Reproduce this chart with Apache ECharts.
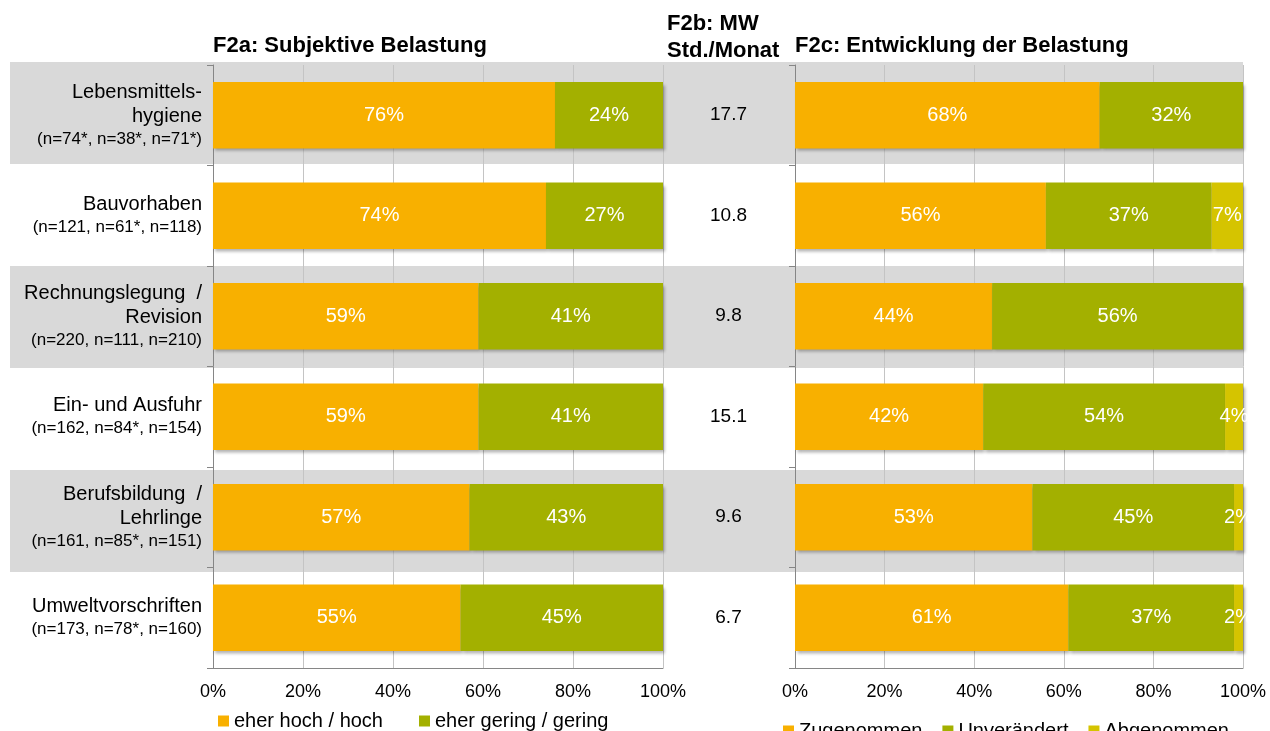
<!DOCTYPE html>
<html>
<head>
<meta charset="utf-8">
<script src="https://cdn.jsdelivr.net/npm/echarts@6/dist/echarts.min.js"></script>
<style>
  html, body { margin: 0; padding: 0; background: #fff; }
  #chart { width: 1270px; height: 731px; }
</style>
</head>
<body>
<div id="chart"></div>
<script>
  // Themen und Stichproben
  const categories = ['Lebensmittels-\nhygiene', 'Bauvorhaben', 'Rechnungslegung  /\nRevision',
    'Ein- und Ausfuhr', 'Berufsbildung  /\nLehrlinge', 'Umweltvorschriften'];
  const sampleSizes = ['(n=74*, n=38*, n=71*)', '(n=121, n=61*, n=118)', '(n=220, n=111, n=210)',
    '(n=162, n=84*, n=154)', '(n=161, n=85*, n=151)', '(n=173, n=78*, n=160)'];

  // F2a: subjektive Belastung (%)
  const highLoad = [76, 74, 59, 59, 57, 55];
  const lowLoad = [24, 27, 41, 41, 43, 45];

  // F2b: Mittelwert Std./Monat
  const hoursPerMonth = [17.7, 10.8, 9.8, 15.1, 9.6, 6.7];

  // F2c: Entwicklung der Belastung (%)
  const increased = [68, 56, 44, 42, 53, 61];
  const unchanged = [32, 37, 56, 54, 45, 37];
  const decreased = [0, 7, 0, 4, 2, 2];

  const percentTicks = [0, 20, 40, 60, 80, 100];

  const font = "'Liberation Sans', Arial, sans-serif";
  const orange = '#F8B000';
  const green = '#A3B000';
  const yellow = '#D5C400';
  const axisGray = '#868686';
  const textColor = '#000';

  const myChart = echarts.init(document.getElementById('chart'));

  let barLabel = {
    show: true,
    position: 'inside',
    color: '#fff',
    fontSize: 20,
    fontFamily: font,
    formatter: p => (p.value > 0 ? p.value + '%' : '')
  };
  let barShadow = {
    shadowColor: 'rgba(0,0,0,0.3)',
    shadowBlur: 3,
    shadowOffsetX: 2,
    shadowOffsetY: 3
  };

  function valueAxis(gridIndex) {
    return {
      type: 'value',
      gridIndex: gridIndex,
      min: percentTicks[0],
      max: percentTicks[percentTicks.length - 1],
      interval: 20,
      axisLine: { show: true, lineStyle: { color: axisGray } },
      axisTick: { show: false },
      axisLabel: { formatter: '{value}%', fontSize: 18, color: textColor, fontFamily: font, margin: 15 },
      splitLine: { show: true, lineStyle: { color: '#C4C4C4' } }
    };
  }

  function categoryAxis(gridIndex, withLabels) {
    return {
      type: 'category',
      gridIndex: gridIndex,
      inverse: true,
      data: categories,
      axisLine: { show: true, lineStyle: { color: axisGray } },
      axisTick: { show: true, length: 6, lineStyle: { color: axisGray } },
      axisLabel: withLabels ? {
        margin: 11,
        align: 'right',
        fontFamily: font,
        formatter: (v, i) => v.split('\n').map(s => '{a|' + s + '}').join('\n') + '\n{b|' + sampleSizes[i] + '}',
        rich: {
          a: { fontSize: 20, lineHeight: 24, color: textColor, fontFamily: font, align: 'right' },
          b: { fontSize: 17, lineHeight: 22, color: textColor, fontFamily: font, align: 'right' }
        }
      } : { show: false }
    };
  }

  let titleStyle = { fontSize: 22, fontWeight: 'bold', color: textColor, fontFamily: font, lineHeight: 27 };

  let option = {
    animation: false,
    title: [
      { text: 'F2a: Subjektive Belastung', left: 208, top: 27, textStyle: titleStyle },
      { text: 'F2b: MW\nStd./Monat', left: 662, top: 5, textStyle: titleStyle },
      { text: 'F2c: Entwicklung der Belastung', left: 790, top: 27, textStyle: titleStyle }
    ],
    legend: [
      { data: ['eher hoch / hoch', 'eher gering / gering'], left: 213, top: 706,
        itemWidth: 11, itemHeight: 11, itemGap: 36, icon: 'rect',
        textStyle: { fontSize: 20, color: textColor, fontFamily: font } },
      { data: ['Zugenommen', 'Unverändert', 'Abgenommen'], left: 778, top: 716,
        itemWidth: 11, itemHeight: 11, itemGap: 20, icon: 'rect',
        textStyle: { fontSize: 20, color: textColor, fontFamily: font } }
    ],
    grid: [
      { left: 10, right: 27, top: 62, height: 612 },   // Hintergrundbänder
      { left: 213, width: 450, top: 65, height: 603 },  // F2a
      { left: 663, width: 131, top: 65, height: 603 },  // F2b
      { left: 795, width: 448, top: 65, height: 603 }   // F2c
    ],
    xAxis: [
      { type: 'value', gridIndex: 0, show: false, z: -1 },
      valueAxis(1),
      { type: 'value', gridIndex: 2, min: 0, max: 1, show: false },
      valueAxis(3)
    ],
    yAxis: [
      { type: 'category', gridIndex: 0, inverse: true, data: categories, z: -1,
        axisLine: { show: false }, axisTick: { show: false }, axisLabel: { show: false },
        splitArea: { show: true, areaStyle: { color: ['#D9D9D9', 'rgba(255,255,255,0)'] } } },
      categoryAxis(1, true),
      { type: 'category', gridIndex: 2, inverse: true, data: categories, show: false },
      categoryAxis(3, false)
    ],
    series: [
      { name: 'eher hoch / hoch', type: 'bar', stack: 'a', xAxisIndex: 1, yAxisIndex: 1,
        barCategoryGap: '34%', data: highLoad, itemStyle: Object.assign({ color: orange }, barShadow), label: barLabel },
      { name: 'eher gering / gering', type: 'bar', stack: 'a', xAxisIndex: 1, yAxisIndex: 1,
        barCategoryGap: '34%', data: lowLoad, itemStyle: Object.assign({ color: green }, barShadow), label: barLabel },
      { name: 'MW', type: 'scatter', xAxisIndex: 2, yAxisIndex: 2, symbolSize: 0,
        itemStyle: { opacity: 1 },
        data: hoursPerMonth.map((v, i) => [0.5, i]),
        label: { show: true, position: 'inside', fontSize: 19, color: textColor, fontFamily: font,
          formatter: p => hoursPerMonth[p.dataIndex].toFixed(1) } },
      { name: 'Zugenommen', type: 'bar', stack: 'c', xAxisIndex: 3, yAxisIndex: 3,
        barCategoryGap: '34%', data: increased, itemStyle: Object.assign({ color: orange }, barShadow), label: barLabel },
      { name: 'Unverändert', type: 'bar', stack: 'c', xAxisIndex: 3, yAxisIndex: 3,
        barCategoryGap: '34%', data: unchanged, itemStyle: Object.assign({ color: green }, barShadow), label: barLabel },
      { name: 'Abgenommen', type: 'bar', stack: 'c', xAxisIndex: 3, yAxisIndex: 3,
        barCategoryGap: '34%', data: decreased, itemStyle: Object.assign({ color: yellow }, barShadow), label: barLabel }
    ]
  };

  myChart.setOption(option);
</script>
</body>
</html>
